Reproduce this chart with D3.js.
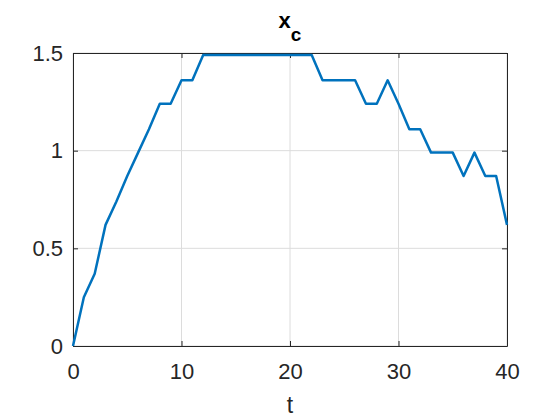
<!DOCTYPE html>
<html>
<head>
<meta charset="utf-8">
<script src="https://cdn.jsdelivr.net/npm/d3@7"></script>
<style>
  body { margin: 0; background: #fff; }
  text { font-family: "Liberation Sans", Arial, sans-serif; }
</style>
</head>
<body>
<div id="chart"></div>
<script>
/* DATA */
const tValues = d3.range(0, 41);
const xcValues = [
  0, 0.25, 0.37, 0.62, 0.74, 0.87, 0.99, 1.11, 1.24, 1.24,
  1.36, 1.36, 1.49, 1.49, 1.49, 1.49, 1.49, 1.49, 1.49, 1.49,
  1.49, 1.49, 1.49, 1.36, 1.36, 1.36, 1.36, 1.24, 1.24, 1.36,
  1.24, 1.11, 1.11, 0.99, 0.99, 0.99, 0.87, 0.99, 0.87, 0.87,
  0.62
];
const xTicks = [0, 10, 20, 30, 40];
const yTicks = [0, 0.5, 1, 1.5];

/* CONSTANTS */
const width = 560,
  height = 420,
  margin = { top: 53, bottom: 74, left: 73, right: 53 };

const data = tValues.map((t, i) => ({ t: t, v: xcValues[i] }));

const svg = d3.select("#chart")
  .append("svg")
  .attr("width", width)
  .attr("height", height);

const xScale = d3.scaleLinear()
  .domain([0, 40])
  .range([margin.left, width - margin.right]);

const yScale = d3.scaleLinear()
  .domain([0, 1.5])
  .range([height - margin.bottom, margin.top]);

// grid
svg.append("g")
  .selectAll("line")
  .data(xTicks)
  .join("line")
  .attr("x1", d => xScale(d)).attr("x2", d => xScale(d))
  .attr("y1", yScale(0)).attr("y2", yScale(1.5))
  .attr("stroke", "#dcdcdc").attr("stroke-width", 1);

svg.append("g")
  .selectAll("line")
  .data(yTicks)
  .join("line")
  .attr("x1", xScale(0)).attr("x2", xScale(40))
  .attr("y1", d => yScale(d)).attr("y2", d => yScale(d))
  .attr("stroke", "#dcdcdc").attr("stroke-width", 1);

// axes (ticks pointing inward, box on all four sides)
const xAxis = d3.axisBottom(xScale).tickValues(xTicks).tickSize(-5).tickSizeOuter(0).tickPadding(17).tickFormat(d3.format("d"));
const yAxis = d3.axisLeft(yScale).tickValues(yTicks).tickSize(-5).tickSizeOuter(0).tickPadding(10).tickFormat(d => d);
const xAxisTop = d3.axisTop(xScale).tickValues(xTicks).tickSize(-5).tickSizeOuter(0).tickFormat("");
const yAxisRight = d3.axisRight(yScale).tickValues(yTicks).tickSize(-5).tickSizeOuter(0).tickFormat("");

function styleAxis(g) {
  g.select(".domain").attr("stroke", "#262626").attr("stroke-width", 1);
  g.selectAll(".tick line").attr("stroke", "#262626");
  g.selectAll(".tick text").attr("fill", "#262626").attr("font-size", 22);
}

svg.append("g")
  .attr("transform", `translate(0, ${yScale(0)})`)
  .call(xAxis).call(styleAxis);
svg.append("g")
  .attr("transform", `translate(${xScale(0)}, 0)`)
  .call(yAxis).call(styleAxis);
svg.append("g")
  .attr("transform", `translate(0, ${yScale(1.5)})`)
  .call(xAxisTop).call(styleAxis);
svg.append("g")
  .attr("transform", `translate(${xScale(40)}, 0)`)
  .call(yAxisRight).call(styleAxis);

// line
const line = d3.line()
  .x(d => xScale(d.t))
  .y(d => yScale(d.v));

svg.append("path")
  .datum(data)
  .attr("fill", "none")
  .attr("stroke", "#0072BD")
  .attr("stroke-width", 2.5)
  .attr("stroke-linejoin", "round")
  .attr("d", line);

// title
const title = svg.append("text")
  .attr("x", (xScale(0) + xScale(40)) / 2)
  .attr("y", 28)
  .attr("text-anchor", "middle")
  .attr("font-size", 22)
  .attr("font-weight", "bold")
  .attr("fill", "#000");
title.append("tspan").text("x");
title.append("tspan").attr("font-size", 19).attr("dy", 13).text("c");

// x label
svg.append("text")
  .attr("x", (xScale(0) + xScale(40)) / 2)
  .attr("y", 413)
  .attr("text-anchor", "middle")
  .attr("font-size", 23)
  .attr("fill", "#262626")
  .text("t");
</script>
</body>
</html>
